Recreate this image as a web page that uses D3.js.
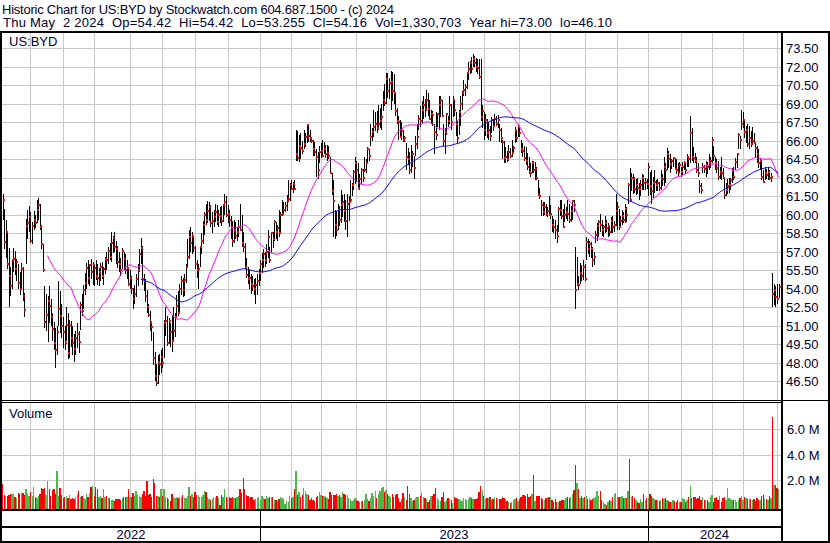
<!DOCTYPE html>
<html><head><meta charset="utf-8">
<script src="https://cdn.jsdelivr.net/npm/d3@7"></script>
<style>
body{margin:0;background:#fff}
svg{display:block}
text{font-family:"Liberation Sans",Arial,sans-serif}
</style>
</head><body>
<svg id="c" width="830" height="543"></svg>
<script>
// ---------- data ----------
const startDate = "2022-05-05";
const endDate = "2024-05-02";
const holidays = ["2022-05-30","2022-06-20","2022-07-04","2022-09-05","2022-11-24","2022-12-26",
  "2023-01-02","2023-01-16","2023-02-20","2023-04-07","2023-05-29","2023-06-19","2023-07-04",
  "2023-09-04","2023-11-23","2023-12-25","2024-01-01","2024-01-15","2024-02-19","2024-03-29"];

const hi = [
61.7,60.5,59.6,58.7,57.3,55.8,56.4,57.3,57.1,56.4,
56.0,55.4,56.1,55.8,53.7,59.7,60.4,60.7,60.2,59.4,
60.3,60.0,61.2,61.4,60.9,59.2,57.6,54.2,53.6,53.4,
54.2,53.2,52.0,51.3,50.8,51.0,54.6,53.8,52.8,51.7,
51.0,52.5,52.0,51.5,51.4,51.0,50.3,50.6,51.2,50.6,
52.9,53.6,54.3,55.3,56.1,56.3,56.0,56.4,56.2,55.9,
56.3,56.0,55.7,56.1,56.2,55.8,56.6,57.0,57.4,57.7,
58.6,58.3,58.6,57.9,57.5,57.0,56.5,57.3,57.0,56.8,
56.3,55.8,55.5,55.0,54.1,54.3,55.2,56.0,57.2,58.1,
57.5,55.2,54.8,53.9,52.8,52.2,51.2,50.5,48.9,47.9,
48.6,48.7,49.0,49.2,51.5,52.5,51.8,51.6,51.2,51.9,
52.5,52.0,53.5,53.8,54.4,55.0,54.9,55.2,56.0,58.0,
58.8,59.0,58.6,58.4,57.5,56.3,56.0,57.5,58.5,59.5,
60.2,60.9,61.1,61.0,60.8,60.2,60.4,60.9,60.8,60.4,
60.6,60.7,60.9,61.7,61.5,60.8,60.4,59.9,59.5,59.6,
59.4,59.0,59.6,60.9,60.0,58.6,57.7,56.5,55.8,55.5,
55.2,55.0,54.8,54.9,55.2,55.6,56.3,56.9,57.2,57.0,
57.6,58.8,57.4,58.5,58.6,59.6,59.4,59.2,60.4,60.2,
61.2,61.0,61.0,61.6,62.8,62.6,62.8,62.7,62.8,66.9,
66.8,66.5,66.6,66.0,66.9,66.6,67.4,67.2,66.9,66.3,
66.1,65.9,65.3,65.1,65.6,65.8,66.1,65.9,65.7,65.7,
65.6,64.7,63.4,62.8,60.4,60.3,60.9,60.7,62.0,61.6,
61.7,61.2,61.7,61.5,62.8,62.6,63.6,64.7,64.4,64.2,
63.3,63.8,63.7,64.7,64.5,65.5,65.3,67.4,67.0,68.5,
68.3,68.4,68.9,68.7,69.0,70.0,70.6,71.5,71.5,71.1,
71.7,71.6,71.4,69.9,68.7,68.0,67.7,67.5,66.9,66.4,
65.8,65.4,65.1,65.7,65.2,64.8,66.4,67.4,68.1,68.8,
69.2,69.6,69.4,70.1,69.9,69.3,68.5,68.4,67.4,68.3,
68.2,69.6,69.6,69.3,67.4,67.0,68.2,68.0,69.6,69.0,
69.6,69.4,68.3,67.6,68.5,69.6,70.0,70.9,70.6,71.6,
72.4,72.5,72.8,73.0,72.9,72.7,72.6,72.6,72.6,68.9,
68.3,68.2,67.8,67.5,67.2,67.9,67.8,68.2,68.0,68.1,
67.4,67.0,66.1,66.0,65.5,65.2,65.7,65.4,66.1,65.6,
67.1,66.9,67.4,67.2,66.1,65.8,65.6,65.5,65.0,64.7,
64.2,64.4,64.4,64.3,63.9,62.8,62.2,61.2,61.0,61.0,
60.9,60.6,61.5,60.8,59.9,59.7,59.6,59.2,60.6,61.2,
61.2,60.5,60.9,60.6,61.2,60.9,60.7,61.2,61.2,57.4,
56.6,55.0,56.1,55.9,56.3,56.0,58.2,58.0,57.9,57.8,
57.4,57.0,58.7,59.3,59.6,60.1,59.6,59.2,59.9,59.6,
59.3,59.0,59.8,59.9,59.5,61.7,61.0,60.5,59.9,60.4,
60.2,60.9,60.6,62.6,63.8,63.4,63.3,63.1,62.9,63.0,
62.6,62.8,63.3,63.2,63.0,62.9,64.2,63.5,63.6,63.1,
63.6,62.8,62.9,62.7,63.6,63.3,64.7,64.2,65.4,65.2,
64.9,64.5,64.7,64.6,64.5,64.2,64.3,63.9,64.3,64.4,
64.2,64.9,64.7,68.0,67.0,65.5,65.0,64.7,64.2,62.8,
62.6,64.2,64.0,64.4,64.3,64.9,64.7,66.3,65.6,64.7,
64.5,64.4,63.9,64.7,63.8,62.9,62.6,62.9,63.0,63.0,
63.8,63.9,64.6,64.9,66.6,66.4,68.5,68.3,67.7,67.2,
67.4,67.2,66.8,67.1,66.6,65.8,65.6,65.3,64.6,64.4,
63.6,63.9,63.7,63.9,63.6,63.4,55.3,54.4,54.2,54.4,
54.42];

const lo = [
59.6,57.2,56.5,55.6,52.5,53.4,54.0,55.4,55.1,54.6,
54.0,53.5,54.0,53.0,51.7,56.0,58.0,58.6,57.7,57.6,
58.8,58.9,59.3,59.6,58.8,57.2,55.4,50.8,50.6,49.7,
51.2,51.0,49.8,49.0,47.6,48.6,51.0,50.4,50.0,49.2,
49.0,49.8,48.3,48.4,49.3,48.6,48.1,48.6,49.2,48.8,
50.7,51.8,52.4,53.5,54.0,54.4,54.2,54.8,54.3,54.2,
54.7,54.3,54.2,54.6,54.8,54.3,55.2,55.5,56.0,56.3,
56.2,56.9,57.0,56.0,55.7,55.4,55.0,55.6,55.5,55.2,
54.8,54.2,54.0,53.6,52.4,52.8,53.3,54.2,55.4,56.0,
54.3,53.8,52.9,52.0,51.7,50.6,49.8,47.8,46.5,46.1,
46.3,47.0,47.2,47.6,48.4,50.2,49.4,49.5,49.3,48.9,
49.8,50.1,51.7,51.8,52.0,53.5,53.3,53.4,54.5,55.7,
56.4,57.0,56.8,57.0,55.6,54.9,54.0,55.8,56.8,57.6,
58.4,59.2,59.3,59.5,59.0,58.5,59.0,59.4,59.2,59.0,
59.3,59.1,59.4,60.0,59.8,59.3,59.0,58.0,57.4,57.7,
58.0,57.9,58.2,58.7,57.4,57.0,55.6,54.9,54.4,54.0,
53.6,53.8,53.5,52.8,53.5,54.2,54.6,55.3,55.7,55.8,
56.0,56.5,56.1,56.9,57.3,57.9,58.0,57.9,58.2,58.5,
59.9,60.0,60.2,60.3,61.0,61.1,62.0,61.8,62.0,64.4,
64.4,64.3,64.5,64.9,65.3,65.5,65.8,65.9,65.9,65.8,
64.8,64.8,63.1,62.9,64.2,64.6,64.7,64.9,64.6,64.4,
64.5,63.3,61.6,58.2,58.0,58.3,58.8,59.1,59.3,59.8,
59.4,58.8,58.2,59.5,61.0,61.5,62.0,62.5,62.7,62.2,
62.0,62.4,62.7,63.5,63.4,64.2,64.4,65.6,66.0,66.3,
66.8,66.6,66.9,67.0,66.9,68.4,68.8,69.0,69.5,69.4,
68.5,69.2,69.0,68.0,67.4,66.1,66.2,66.1,65.9,65.9,
63.6,64.0,63.3,63.4,63.9,62.9,64.8,65.3,66.9,67.1,
67.4,67.8,67.9,68.4,68.0,67.7,67.4,67.2,64.9,66.1,
67.1,66.9,67.9,67.9,65.6,64.9,66.5,67.1,67.4,66.9,
67.9,68.0,66.4,65.8,66.5,67.2,68.5,69.6,69.6,70.2,
70.9,71.4,71.5,72.0,72.0,71.6,71.4,71.0,67.6,67.0,
66.1,66.4,66.2,66.1,66.0,66.6,66.8,67.1,67.2,67.0,
65.9,65.8,64.5,64.2,64.2,64.3,64.4,64.6,64.7,64.9,
65.8,65.9,66.3,66.3,65.0,64.7,64.4,64.0,63.6,63.3,
63.1,63.4,63.4,62.8,62.8,61.5,61.3,59.9,59.9,60.0,
59.9,59.8,59.9,59.7,58.6,58.5,58.0,57.7,58.6,59.9,
59.7,59.0,59.4,59.7,59.5,59.3,59.4,59.6,60.2,52.4,
54.2,53.9,54.4,54.6,54.7,54.6,56.3,56.8,56.6,56.5,
55.8,55.9,57.7,57.9,58.2,58.6,58.3,58.2,58.5,58.6,
58.2,58.3,58.5,58.5,58.6,59.1,58.8,58.8,58.9,59.2,
59.3,59.3,59.4,60.9,61.0,61.9,61.7,61.8,61.6,61.7,
61.2,61.5,62.0,62.0,62.0,62.1,61.5,61.6,60.9,61.4,
61.8,61.9,61.9,61.9,62.0,62.3,62.3,62.6,63.6,63.8,
63.4,63.7,63.9,63.6,63.3,63.1,63.3,63.1,63.2,63.6,
63.3,63.9,63.9,64.2,64.4,64.2,64.2,63.4,63.1,61.8,
61.7,63.4,63.4,63.1,63.3,63.6,63.8,64.2,64.4,63.6,
63.4,62.8,62.9,62.8,62.9,61.3,61.5,61.7,61.8,62.0,
62.6,62.8,63.6,63.8,65.3,65.3,66.9,67.0,66.2,65.8,
65.5,65.3,65.5,65.8,65.8,64.6,64.2,63.8,63.6,62.8,
62.6,62.8,62.9,62.8,62.8,62.7,52.5,52.7,52.5,52.8,
53.26];

const cl = [
61.2,57.8,58.6,56.0,55.0,54.2,56.3,56.4,55.6,56.2,
54.5,54.0,55.6,53.4,52.3,59.1,59.3,59.8,57.9,59.1,
59.6,59.3,60.4,60.8,59.0,57.6,55.5,51.3,51.9,53.0,
52.6,51.7,50.7,49.6,49.0,50.5,52.4,51.8,51.0,50.5,
49.6,51.1,48.8,51.1,50.0,49.6,49.1,50.0,50.3,49.7,
52.7,52.2,53.9,54.5,55.7,54.9,55.9,55.4,55.9,55.7,
55.0,54.9,55.4,55.8,55.0,55.6,56.4,56.3,57.1,56.6,
57.7,58.1,57.4,57.2,56.2,56.0,55.5,57.1,56.4,55.5,
55.7,54.4,54.9,54.0,53.2,53.6,54.8,55.5,56.8,57.3,
54.8,54.6,53.4,52.5,51.9,51.3,50.9,48.4,46.9,46.4,
48.1,47.9,48.5,48.0,51.2,51.4,49.6,51.4,50.5,49.8,
50.6,51.7,52.6,52.0,54.0,54.6,53.9,54.7,55.8,56.6,
58.2,57.7,58.3,57.3,56.0,55.5,55.6,57.4,57.9,59.2,
60.0,59.6,60.3,60.6,59.3,59.5,59.8,60.2,59.4,60.0,
59.9,59.5,60.8,61.0,60.0,60.1,59.6,59.0,57.9,58.8,
58.3,58.6,59.0,58.8,57.7,57.4,55.8,55.1,54.8,54.9,
54.4,54.2,54.0,54.3,54.6,55.3,56.0,56.3,56.8,56.3,
57.0,58.2,56.3,58.5,58.0,59.4,58.6,58.9,58.5,60.0,
60.1,60.4,60.7,61.2,61.3,62.4,62.1,62.5,62.1,64.9,
64.6,65.6,65.4,65.2,65.7,66.3,67.3,66.4,66.2,66.0,
65.3,65.1,64.7,63.6,65.1,65.2,64.8,65.3,64.9,65.0,
64.8,63.4,61.9,61.1,59.2,58.8,60.4,59.6,60.8,61.0,
60.3,59.5,60.9,61.0,61.2,62.4,63.5,64.2,63.6,62.2,
62.9,63.6,63.0,63.6,64.2,65.3,64.8,66.3,66.7,67.1,
67.4,67.0,67.4,67.6,67.9,69.3,69.1,71.0,70.0,70.7,
70.8,70.0,69.9,68.4,67.6,67.5,66.3,66.8,66.1,66.2,
64.7,64.5,63.6,64.3,64.9,63.8,65.7,66.3,67.8,67.6,
68.5,68.9,68.6,69.3,68.6,67.8,68.2,68.1,66.7,66.5,
68.2,68.9,69.3,68.0,66.0,66.7,68.2,67.6,68.9,67.5,
69.3,68.5,67.4,66.2,68.3,69.0,69.9,70.1,70.4,71.5,
71.8,72.3,71.8,72.6,72.3,72.0,71.9,71.2,67.9,68.4,
66.9,67.7,66.6,66.9,66.4,67.7,67.2,67.8,67.4,67.7,
66.9,66.2,65.9,64.6,64.7,64.5,65.1,64.8,65.0,65.4,
66.9,66.2,67.1,66.6,65.3,65.2,64.6,64.4,63.9,63.5,
63.4,64.2,63.6,63.7,63.0,61.6,61.5,60.8,60.2,60.6,
60.1,60.3,60.0,60.1,59.2,59.0,58.8,58.3,60.5,60.4,
59.9,59.0,60.0,60.2,60.1,59.6,60.3,61.1,60.8,53.9,
54.4,54.3,55.3,55.0,55.8,54.8,57.8,57.2,57.6,57.2,
56.3,56.6,58.4,59.1,59.4,59.2,58.8,59.0,59.3,58.9,
59.1,58.6,59.5,59.0,59.2,60.3,60.6,59.0,59.5,59.9,
59.6,60.5,60.0,62.4,61.2,63.0,62.9,62.1,62.4,62.2,
62.1,62.4,63.0,62.6,62.7,62.5,63.9,62.3,61.9,62.6,
62.7,62.4,62.6,62.2,63.0,62.9,63.9,63.6,64.9,64.5,
64.1,64.4,64.6,63.7,63.6,63.4,64.0,63.5,63.9,64.2,
63.6,64.7,64.5,66.6,64.7,64.6,64.4,63.6,63.4,62.3,
62.0,63.9,63.7,64.0,63.9,64.2,64.4,66.1,64.8,64.2,
63.8,63.1,63.5,63.4,63.0,61.6,62.0,62.3,62.4,62.8,
63.6,63.1,64.3,64.9,66.5,66.1,67.4,67.7,66.7,66.9,
65.7,66.2,65.7,66.0,65.8,65.4,64.9,64.2,64.4,63.1,
62.7,63.4,63.2,63.5,63.0,63.1,53.6,53.9,53.3,53.2,
54.16];

// volume in millions of shares
const vol = [
1.70,0.85,0.80,0.82,0.88,0.95,0.90,0.95,0.73,0.65,
1.00,0.95,1.05,0.98,0.85,1.30,0.90,0.80,1.10,0.75,
1.46,0.70,0.65,0.80,0.90,1.40,1.35,1.40,0.85,1.97,
1.30,0.80,1.25,1.30,0.90,2.72,0.78,1.40,0.85,0.60,
0.70,0.78,0.65,0.86,0.52,0.60,0.52,0.70,0.94,1.15,
0.70,0.78,0.65,0.52,0.94,0.70,1.00,1.46,1.56,0.78,
1.46,1.30,0.73,0.78,0.65,1.30,0.70,0.78,0.65,0.60,
0.50,0.45,0.40,0.52,0.57,0.55,0.47,0.60,0.68,0.70,
0.68,1.35,0.73,0.68,0.99,0.75,1.20,0.86,0.80,0.73,
0.90,1.20,0.75,1.97,0.86,0.90,0.70,2.08,1.82,0.80,
0.75,0.73,1.35,0.78,1.30,0.70,0.60,0.52,0.42,0.94,
0.73,0.65,0.68,0.60,0.68,0.70,0.86,0.65,0.60,0.78,
1.46,0.80,0.94,0.73,1.12,0.86,0.86,0.68,0.70,0.85,
1.20,1.12,0.70,0.52,0.47,0.55,0.68,0.65,0.78,0.60,
0.10,0.86,0.70,1.30,0.68,0.60,0.68,0.60,0.73,0.65,
0.60,0.68,0.80,1.30,1.04,2.18,1.30,0.85,0.78,0.65,
0.73,0.70,0.47,0.57,0.60,0.68,0.47,0.78,0.60,0.52,
0.78,0.65,0.70,0.72,0.70,0.50,0.47,0.42,0.57,0.68,
0.60,0.52,0.16,0.40,0.34,0.78,0.60,0.68,1.30,2.72,
0.86,1.07,0.70,0.89,1.40,1.15,0.94,0.86,0.47,0.60,
0.47,0.42,0.68,0.78,1.09,0.86,0.78,0.78,0.70,0.60,
0.55,1.09,0.86,0.86,0.86,0.94,0.78,0.86,0.70,1.09,
0.94,0.86,0.86,0.60,0.52,0.42,0.50,0.60,0.47,0.42,
0.34,0.40,0.42,0.50,0.94,0.55,0.42,0.60,0.99,0.80,
1.17,0.60,0.94,1.17,1.40,1.46,1.10,1.25,0.94,0.81,
0.70,0.94,0.73,0.86,0.94,0.60,0.31,0.55,0.99,0.70,
0.47,1.56,0.94,0.60,0.42,0.50,0.60,0.70,0.70,0.80,
0.99,0.68,0.60,0.57,0.34,0.47,0.78,0.78,0.90,1.40,
0.60,0.50,0.42,0.73,1.09,0.34,0.50,0.60,0.55,0.45,
0.26,0.68,0.60,0.55,0.55,0.50,0.42,0.62,0.55,0.47,
0.55,0.68,0.60,0.55,0.55,0.55,0.60,1.09,1.56,1.25,
0.80,0.52,0.62,0.60,0.68,0.47,0.55,0.68,0.60,0.52,
0.55,0.52,0.68,0.60,0.52,0.40,0.30,0.21,0.31,0.47,
0.55,0.62,0.40,0.55,0.68,0.83,0.86,0.78,0.94,0.70,
0.78,0.94,2.41,0.42,0.78,0.78,0.78,0.62,0.55,0.50,
0.62,0.62,0.70,0.62,0.50,0.34,0.55,0.29,0.29,0.42,
0.50,0.47,0.47,0.60,0.68,0.62,0.70,0.94,1.25,3.18,
1.79,1.33,0.62,0.78,0.62,0.70,0.78,0.55,0.62,0.47,
0.55,0.62,0.70,1.17,0.78,1.17,0.47,0.31,0.16,0.10,
0.30,0.47,0.40,0.70,0.94,1.02,0.70,0.70,0.70,0.78,
0.60,0.62,0.62,1.17,3.65,0.70,0.78,0.60,0.47,0.30,
0.24,0.55,0.31,0.94,0.50,0.62,0.62,0.94,0.78,0.62,
0.55,0.47,0.47,0.40,0.47,0.62,0.55,0.62,0.47,0.40,
0.31,0.31,0.47,0.40,0.31,0.47,0.31,0.31,0.62,0.55,
0.31,0.45,0.70,1.56,0.62,0.70,0.70,0.57,0.60,0.78,
0.47,0.70,0.47,0.50,0.47,0.31,0.70,0.86,0.31,0.62,
0.70,0.50,0.78,0.31,0.62,0.70,0.50,1.40,0.62,0.55,
0.47,0.50,0.47,0.31,0.47,0.60,0.78,0.50,0.70,0.62,
0.55,0.55,0.55,0.47,0.55,0.40,0.62,0.47,0.50,0.78,
0.86,0.55,0.55,0.47,0.78,0.60,6.93,1.63,1.63,1.40,
1.33];

const priceTicks = [46.5,48,49.5,51,52.5,54,55.5,57,58.5,60,61.5,63,64.5,66,67.5,69,70.5,72,73.5];
const volTicks = [2,4,6];            // millions
const maShort = 30, maLong = 90;     // moving-average windows (bars)
const symbol = "US:BYD";
const titleLine = "Historic Chart for US:BYD by Stockwatch.com 604.687.1500 - (c) 2024";
const infoLine = "Thu May  2 2024  Op=54.42  Hi=54.42  Lo=53.255  Cl=54.16  Vol=1,330,703  Year hi=73.00  lo=46.10";

// ---------- trading calendar ----------
const hol = new Set(holidays);
const dates = [];
for (let d = new Date(startDate + "T00:00:00Z"); d <= new Date(endDate + "T00:00:00Z"); d = new Date(d.getTime() + 864e5)) {
  const wd = d.getUTCDay(), s = d.toISOString().slice(0, 10);
  if (wd !== 0 && wd !== 6 && !hol.has(s)) dates.push(d);
}
const n = cl.length;

// ---------- layout ----------
const svg = d3.select("#c");
const PL = 2, PR = 781;           // plot left / right (axis line)
const PT = 33, PB = 400;          // price panel
const VT = 403, VB = 509;         // volume panel
const x = d3.scaleLinear().domain([0, n - 1]).range([2.5, 778.5]);
const step = x(1) - x(0);
const yP = d3.scaleLinear().domain([46.5, 73.5]).range([381.3, 48.3]);
const yV = d3.scaleLinear().domain([0, 6]).range([506.1, 428.7]);
const grid = "#c8c8c8", ink = "#000033";

svg.append("rect").attr("width", 830).attr("height", 543).attr("fill", "#fff");

// month / year boundaries
const monthStarts = [], yearStarts = [0];
for (let i = 1; i < dates.length; i++) {
  if (dates[i].getUTCMonth() !== dates[i - 1].getUTCMonth()) monthStarts.push(i);
  if (dates[i].getUTCFullYear() !== dates[i - 1].getUTCFullYear()) yearStarts.push(i);
}

const g = svg.append("g").attr("shape-rendering", "crispEdges");
// horizontal price grid
g.selectAll(".hp").data(priceTicks).enter().append("line")
  .attr("x1", PL).attr("x2", PR)
  .attr("y1", d => Math.round(yP(d)) + 0.5).attr("y2", d => Math.round(yP(d)) + 0.5)
  .attr("stroke", grid);
// horizontal volume grid
g.selectAll(".hv").data(volTicks).enter().append("line")
  .attr("x1", PL).attr("x2", PR)
  .attr("y1", d => Math.round(yV(d)) + 0.5).attr("y2", d => Math.round(yV(d)) + 0.5)
  .attr("stroke", grid);
// vertical month grid
monthStarts.forEach(i => {
  const xx = Math.round(x(i)) + 0.5;
  g.append("line").attr("x1", xx).attr("x2", xx).attr("y1", PT).attr("y2", PB).attr("stroke", grid);
  g.append("line").attr("x1", xx).attr("x2", xx).attr("y1", VT).attr("y2", VB).attr("stroke", grid);
});

// volume bars
const idx = d3.range(n);
const dir = i => i === 0 ? -1 : Math.sign(Math.round((cl[i] - cl[i - 1]) * 1000));
g.selectAll(".vb").data(idx).enter().append("rect")
  .attr("x", i => x(i) - step / 2 + 0.3)
  .attr("width", step - 0.2)
  .attr("y", i => yV(vol[i]))
  .attr("height", i => VB - yV(vol[i]))
  .attr("fill", i => dir(i) > 0 ? "#4cb848" : dir(i) < 0 ? "#ff0000" : "#a8a8a8");

// price bars (high-low) and close marks
g.selectAll(".pb").data(idx).enter().append("rect")
  .attr("x", i => Math.round(x(i)))
  .attr("width", 1)
  .attr("y", i => yP(hi[i]))
  .attr("height", i => Math.max(1, yP(lo[i]) - yP(hi[i])))
  .attr("fill", "#000");
g.selectAll(".pc").data(idx).enter().append("rect")
  .attr("x", i => Math.round(x(i)))
  .attr("width", 2)
  .attr("y", i => Math.round(yP(cl[i])) - 1)
  .attr("height", 2)
  .attr("fill", "#ff0000");

// moving averages
function ma(w) {
  const out = [];
  for (let i = w - 1; i < n; i++) out.push([i, d3.mean(cl.slice(i - w + 1, i + 1))]);
  return out;
}
const line = d3.line().x(d => x(d[0])).y(d => yP(d[1]));
svg.append("path").attr("d", line(ma(maShort))).attr("fill", "none").attr("stroke", "#ff00ff").attr("stroke-width", 1);
svg.append("path").attr("d", line(ma(maLong))).attr("fill", "none").attr("stroke", "#0000ff").attr("stroke-width", 1);

// frame
const f = svg.append("g").attr("fill", "#000").attr("shape-rendering", "crispEdges");
f.append("rect").attr("x", 0).attr("y", 31).attr("width", 830).attr("height", 2);
f.append("rect").attr("x", 0).attr("y", 31).attr("width", 2).attr("height", 512);
f.append("rect").attr("x", PR).attr("y", 31).attr("width", 2).attr("height", 512);
f.append("rect").attr("x", 828).attr("y", 31).attr("width", 2).attr("height", 512);
f.append("rect").attr("x", 0).attr("y", 400).attr("width", 830).attr("height", 1);
f.append("rect").attr("x", 0).attr("y", 402).attr("width", PR).attr("height", 1);
f.append("rect").attr("x", 0).attr("y", VB).attr("width", PR).attr("height", 2);
f.append("rect").attr("x", 0).attr("y", 526).attr("width", PR).attr("height", 2);
f.append("rect").attr("x", 0).attr("y", 541).attr("width", 830).attr("height", 2);
yearStarts.slice(1).forEach(i => {
  f.append("rect").attr("x", Math.round(x(i))).attr("y", VB).attr("width", 1).attr("height", 32);
});

// texts
const t = svg.append("g").attr("font-size", 13).attr("fill", ink);
t.append("text").attr("x", 2).attr("y", 13.5).attr("xml:space", "preserve").style("white-space", "pre")
  .attr("textLength", 392).attr("lengthAdjust", "spacing").text(titleLine);
t.append("text").attr("x", 3).attr("y", 27).attr("xml:space", "preserve").style("white-space", "pre")
  .attr("textLength", 609).attr("lengthAdjust", "spacing").text(infoLine);
t.append("text").attr("x", 9).attr("y", 45.5).text(symbol);
t.append("text").attr("x", 9).attr("y", 418).text("Volume");
t.selectAll(".pl").data(priceTicks).enter().append("text")
  .attr("x", 786).attr("y", d => Math.round(yP(d)) + 5).text(d => d3.format(".2f")(d));
t.selectAll(".vl").data(volTicks).enter().append("text")
  .attr("x", 787).attr("y", d => Math.round(yV(d)) + 5).text(d => d3.format(".1f")(d) + " M");
// year labels centred in their spans
yearStarts.forEach((s, k) => {
  const a = k === 0 ? PL : Math.round(x(s));
  const b = k + 1 < yearStarts.length ? Math.round(x(yearStarts[k + 1])) : PR;
  t.append("text").attr("x", (a + b) / 2).attr("y", 539).attr("text-anchor", "middle")
    .text(dates[s].getUTCFullYear());
});
</script>
</body></html>
